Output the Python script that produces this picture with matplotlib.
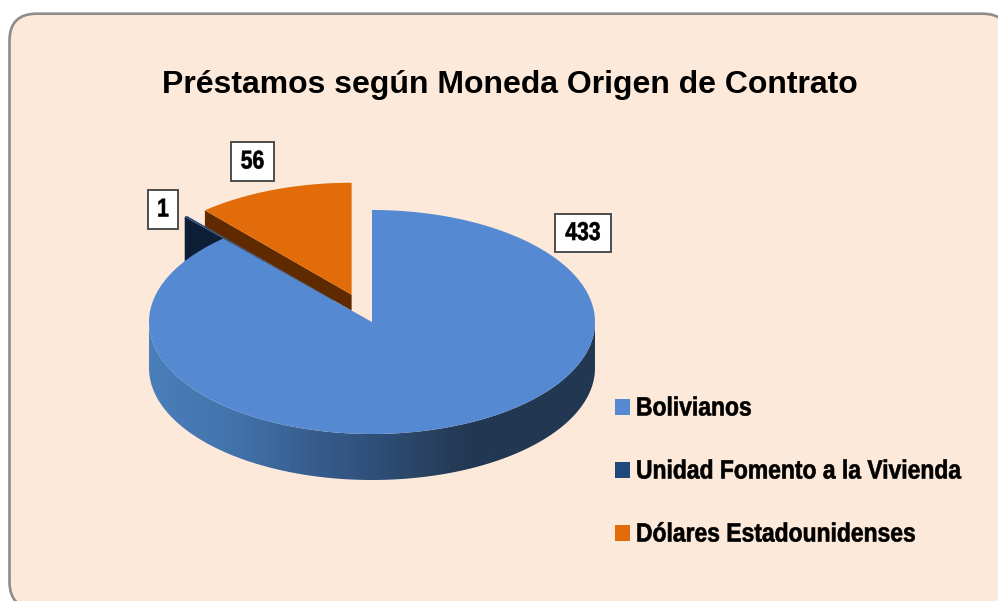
import numpy as np
import matplotlib

matplotlib.use("Agg")
import matplotlib.pyplot as plt
from matplotlib.colors import LinearSegmentedColormap
from matplotlib.patches import FancyBboxPatch, Polygon, Rectangle
from matplotlib.patheffects import AbstractPathEffect
from matplotlib.transforms import Affine2D

title = "Préstamos según Moneda Origen de Contrato"
categories = ["Bolivianos", "Unidad Fomento a la Vivienda", "Dólares Estadounidenses"]
values = [433, 1, 56]
explode = [0, 0.26, 0.26]
top_colors = ["#558ad3", "#1f497d", "#e26b0a"]
wall_colors = ["#223752", "#0c1f36", "#5f2a00"]
depths = [46, 46, 16]
label_boxes = [(555, 214, 56, 38), (148, 190, 30, 39), (231, 142, 43, 39)]
legend_y = [407, 470, 533]

# pie geometry in pixels
cx, cy = 372, 322
rx, ry = 223, 112


# no narrow font installed, squeeze the glyphs around the text anchor
class Squeeze(AbstractPathEffect):
    def __init__(self, anchor_x, sx):
        super().__init__()
        self.anchor_x = anchor_x
        self.sx = sx

    def draw_path(self, renderer, gc, tpath, affine, rgbFace=None):
        squeeze = Affine2D().translate(-self.anchor_x, 0).scale(self.sx, 1).translate(self.anchor_x, 0)
        gc0 = renderer.new_gc()
        gc0.copy_properties(gc)
        gc0.set_foreground("black")
        gc0.set_linewidth(0.45)
        renderer.draw_path(gc0, tpath, affine + squeeze, rgbFace)
        gc0.restore()


fig = plt.figure(figsize=(9.98, 6.01), dpi=100)
ax = fig.add_axes([0, 0, 1, 1])
ax.axis("off")
ax.set_xlim(0, 998)
ax.set_ylim(601, 0)

panel = FancyBboxPatch(
    (9.5, 13.7), 1000, 595, boxstyle="round,pad=0,rounding_size=27",
    facecolor="#fde9d9", edgecolor="#8c8c8c", linewidth=1.9,
)
ax.add_patch(panel)

ax.text(510, 85.5, title, ha="center", va="center", fontsize=23,
        family="Liberation Sans", weight="bold", color="black")


def rim(x0, y0, a, b, n=200):
    t = np.radians(np.linspace(a, b, n))
    return np.column_stack((x0 + rx * np.sin(t), y0 - ry * np.cos(t)))


# angles run clockwise from 12 o'clock, first slice starts there
total = sum(values)
ends = np.cumsum(values) / total * 360
starts = ends - np.array(values) / total * 360

centers = []
for a, b, e in zip(starts, ends, explode):
    mid = np.radians((a + b) / 2)
    centers.append((cx + e * rx * np.sin(mid), cy - e * ry * np.cos(mid)))

# back slices first, the big one covers them
for i in [1, 2]:
    x0, y0 = centers[i]
    edge = rim(x0, y0, starts[i], starts[i], 1)[0]
    ax.add_patch(Polygon(
        [(x0, y0), edge, (edge[0], edge[1] + depths[i]), (x0, y0 + depths[i])],
        facecolor=wall_colors[i], edgecolor="none", zorder=2 + i,
    ))
    ax.add_patch(Polygon(
        np.vstack(([(x0, y0)], rim(x0, y0, starts[i], ends[i]))),
        facecolor=top_colors[i], edgecolor="none", zorder=2 + i,
    ))

# outer wall of the big slice with its gradient
x0, y0 = centers[0]
front = rim(x0, y0, 90, 270)
wall = Polygon(
    np.vstack((front, (front + [0, depths[0]])[::-1])),
    facecolor="none", edgecolor="none", zorder=5,
)
ax.add_patch(wall)
wall_cmap = LinearSegmentedColormap.from_list(
    "wall",
    [(0, "#4a7fbb"), (0.2, "#4272aa"), (0.35, "#385f90"), (0.5, "#30507a"),
     (0.62, "#294362"), (0.72, "#223752"), (1, "#223752")],
)
grad = ax.imshow(
    np.linspace(0, 1, 256)[None, :], cmap=wall_cmap, aspect="auto",
    extent=(x0 - rx, x0 + rx, y0 + ry + depths[0], y0), zorder=5,
)
grad.set_clip_path(wall)
ax.add_patch(Polygon(
    np.vstack(([(x0, y0)], rim(x0, y0, starts[0], ends[0], 400))),
    facecolor=top_colors[0], edgecolor="none", zorder=6,
))

# value labels
for v, (bx, by, bw, bh) in zip(values, label_boxes):
    ax.add_patch(Rectangle((bx, by), bw, bh, facecolor="white", edgecolor="#4d4d4d",
                           linewidth=1.4, zorder=7))
    tx = bx + bw / 2
    ax.text(tx, by + bh / 2, str(v), ha="center", va="center", fontsize=18.5,
            family="Liberation Sans", weight="bold", color="black", zorder=8,
            path_effects=[Squeeze(tx, 0.82)])

# legend, anchored at the middle of the squeezed text so the layout box stays inside
renderer = fig.canvas.get_renderer()
legend_sx = 0.867
for i, (name, y) in enumerate(zip(categories, legend_y)):
    ax.add_patch(Rectangle((615, y - 8), 15, 16, facecolor=top_colors[i], edgecolor="none"))
    t = ax.text(636, y + 8.5, name, ha="center", va="baseline", fontsize=19,
                family="Liberation Sans", weight="bold", color="black")
    tx = 636 + t.get_window_extent(renderer).width * legend_sx / 2
    t.set_x(tx)
    t.set_path_effects([Squeeze(tx, legend_sx)])

ax.set_xlim(0, 998)
ax.set_ylim(601, 0)
fig.savefig("out.png", dpi=100, facecolor="white")
